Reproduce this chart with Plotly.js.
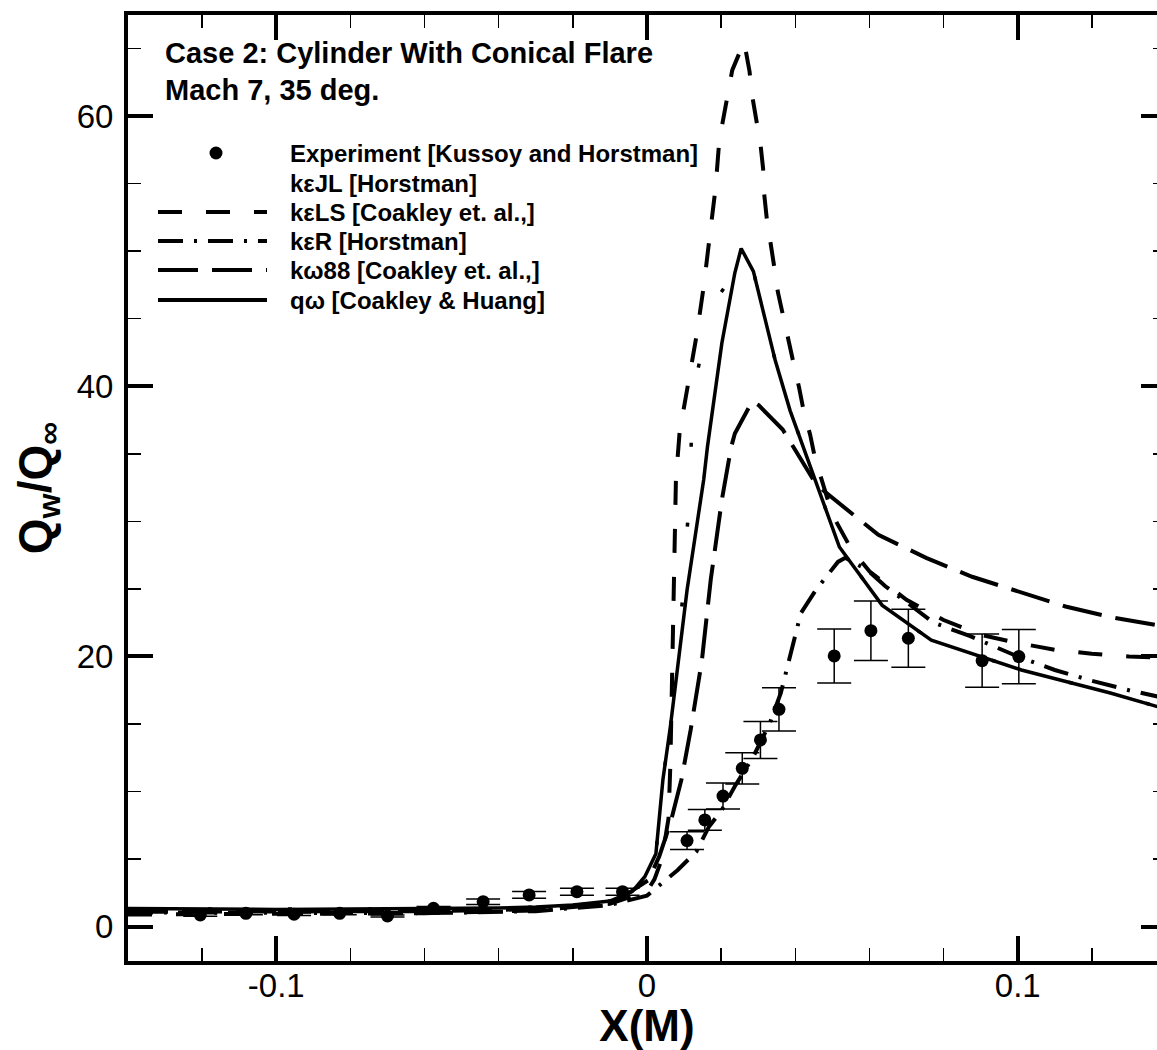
<!DOCTYPE html>
<html>
<head>
<meta charset="utf-8">
<script src="https://cdn.plot.ly/plotly-3.0.1.min.js"></script>
<style>
html,body{margin:0;padding:0;background:#fff;overflow:hidden;}
#chart{width:1170px;height:1050px;}
</style>
</head>
<body>
<div id="chart"></div>
<script>
// ---------------- data ----------------
const seriesNames = [
  "Experiment [Kussoy and Horstman]",
  "k\u03b5JL [Horstman]",
  "k\u03b5LS [Coakley et. al.,]",
  "k\u03b5R [Horstman]",
  "k\u03c988 [Coakley et. al.,]",
  "q\u03c9 [Coakley & Huang]"
];

const expX   = [-0.1205,-0.1082,-0.0952,-0.0829,-0.0700,-0.0576,-0.0442,-0.0318,-0.0189,-0.0066,0.0108,0.0156,0.0205,0.0257,0.0306,0.0356,0.0505,0.0604,0.0705,0.0904,0.1003];
const expY   = [0.87,0.99,0.92,0.99,0.79,1.36,1.85,2.35,2.59,2.59,6.37,7.90,9.67,11.72,13.82,16.09,20.04,21.91,21.35,19.69,19.99];
const expErr = [0.09,0.10,0.09,0.10,0.08,0.14,0.20,0.25,0.26,0.26,0.65,0.77,0.96,1.16,1.37,1.60,2.00,2.20,2.15,1.97,2.00];

// k-eps JL: almost entirely hidden under the other curves; only a couple of dots show on the rise
const keJLx = [-0.14,-0.1,-0.06,-0.03,-0.01,-0.004,-0.0006,0.0024,0.0043,0.0063,0.0095,0.0118,0.0121,0.0175,0.0237,0.0254,0.0287,0.0316,0.0346,0.0386,0.0435,0.0465,0.0519,0.0559,0.0634,0.0767,0.101,0.125,0.14];
const keJLy = [1.3,1.28,1.32,1.45,1.9,2.6,3.7,5.4,10.9,14.8,24.0,33.3,39.2,46.0,48.4,50.2,48.5,45.2,41.9,38.2,34.5,32.3,28.1,26.6,23.8,21.2,19.0,17.3,16.1];

const keLSx = [-0.14,-0.1,-0.06,-0.03,-0.01,0,0.002,0.004,0.0058,0.0063,0.0068,0.0073,0.0078,0.0088,0.0111,0.0134,0.0153,0.017,0.0185,0.0195,0.0219,0.023,0.0262,0.02766,0.02844,0.02963,0.03062,0.03132,0.03162,0.03232,0.0334,0.03429,0.03528,0.03658,0.03825,0.03954,0.04103,0.04224,0.04402,0.04531,0.05,0.055,0.06,0.07,0.08,0.09,0.1,0.11,0.12,0.13,0.14];
const keLSy = [0.9,0.95,1.0,1.2,1.7,2.6,3.5,5.0,8.0,12,18,25,33.1,36.6,40.2,43.8,47.4,51.0,54.7,58.2,61.8,63.4,65.5,63.3,61.4,59.7,57.9,56.1,54.2,52.4,50.6,48.9,47.0,45.3,43.4,41.7,39.9,38.2,36.4,34.7,30.5,28.0,26.3,24.2,22.7,21.6,21.0,20.5,20.2,20.0,19.9];

const keRx = [-0.14,-0.1,-0.06,-0.03,-0.01,0,0.0032,0.0083,0.0133,0.0167,0.0202,0.0237,0.0287,0.0331,0.0361,0.0391,0.0415,0.0455,0.0515,0.0535,0.0594,0.0643,0.0773,0.0872,0.1,0.11,0.12,0.13,0.14];
const keRy = [1.05,1.0,1.0,1.15,1.6,2.3,3.0,4.2,5.55,7.4,8.64,10.4,12.6,15.05,17.3,20.5,23.2,24.9,27.0,27.3,26.4,25.2,22.5,21.5,20.0,19.0,18.2,17.5,16.9];

const kw88x = [-0.14,-0.1,-0.06,-0.03,-0.01,-0.0051,0.0004,0.0033,0.0063,0.0093,0.0118,0.0148,0.0172,0.0202,0.0227,0.0237,0.0284,0.0301,0.0366,0.0455,0.0475,0.0624,0.0753,0.0877,0.1001,0.1129,0.1253,0.14];
const kw88y = [1.1,1.1,1.15,1.3,1.8,2.47,3.45,5.2,7.65,10.9,14.6,19.7,25.7,31.6,35.5,36.5,38.9,38.6,36.8,32.8,32.3,29.0,27.3,25.9,24.8,23.7,22.9,22.2];

const qwx = [-0.14,-0.12,-0.1,-0.08,-0.06,-0.04,-0.03,-0.02,-0.01,-0.004,-0.0006,0.0024,0.0043,0.0063,0.0108,0.0153,0.0163,0.0202,0.0237,0.0254,0.0287,0.0316,0.0346,0.0386,0.0435,0.0465,0.0519,0.0559,0.0634,0.0767,0.101,0.125,0.14];
const qwy = [1.35,1.3,1.28,1.3,1.32,1.38,1.45,1.6,1.9,2.6,3.7,5.4,10.9,14.8,24.9,33.1,35.5,43.2,48.4,50.2,48.5,45.2,41.9,38.2,34.5,32.3,28.1,26.6,23.8,21.2,19.0,17.3,16.1];

const xTickVals = [-0.1, 0, 0.1];
const xTickText = ["-0.1", "0", "0.1"];
const xMinorVals = [-0.12,-0.08,-0.06,-0.04,-0.02,0.02,0.04,0.06,0.08,0.12];
const yTickVals = [0, 20, 40, 60];
const yTickText = ["0", "20", "40", "60"];
const yMinorVals = [5,10,15,25,30,35,45,50,55,65];

const titleLines = ["Case 2: Cylinder With Conical Flare", "Mach 7, 35 deg."];

// ---------------- styles ----------------
const dashes = {
  keJL: "4px,76px",
  keLS: "24px,24px",
  keR: "25px,11px,3px,11px",
  kw88: "40px,14px",
  qw: "solid"
};
const LW = 4;
const FONT = "Liberation Sans, Arial, Helvetica, sans-serif";

// ---------------- traces ----------------
const traces = [
  {x: keJLx, y: keJLy, name: seriesNames[1], mode: "lines", line: {color: "#000", width: 3.5, dash: dashes.keJL}, showlegend: false},
  {x: keLSx, y: keLSy, name: seriesNames[2], mode: "lines", line: {color: "#000", width: LW, dash: dashes.keLS}, showlegend: false},
  {x: keRx, y: keRy, name: seriesNames[3], mode: "lines", line: {color: "#000", width: LW, dash: dashes.keR}, showlegend: false},
  {x: kw88x, y: kw88y, name: seriesNames[4], mode: "lines", line: {color: "#000", width: LW, dash: dashes.kw88}, showlegend: false},
  {x: qwx, y: qwy, name: seriesNames[5], mode: "lines", line: {color: "#000", width: 3.5}, showlegend: false},
  {x: expX, y: expY, name: seriesNames[0], mode: "markers", marker: {color: "#000", size: 13},
   error_y: {type: "data", array: expErr, visible: true, color: "#000", thickness: 1.5, width: 17}, showlegend: false}
];

// ---------------- manual legend (pixel placement -> paper) ----------------
const PL = 128, PR = 1166, PT = 15, PB = 961;
const px2x = p => (p - PL) / (PR - PL);
const px2y = p => (PB - p) / (PB - PT);
const legRows = [153, 183, 212, 241, 270, 300];
const legDash = [null, dashes.keJL, dashes.keLS, dashes.keR, dashes.kw88, "solid"];
const shapes = [];
const annotations = [];
legRows.forEach((py, i) => {
  if (i === 0) {
    shapes.push({type: "circle", xref: "paper", yref: "paper", xsizemode: "pixel", ysizemode: "pixel",
      xanchor: px2x(216), yanchor: px2y(py), x0: -6.5, x1: 6.5, y0: -6.5, y1: 6.5,
      fillcolor: "#000", line: {color: "#000", width: 0}});
  } else if (i !== 1) {
    shapes.push({type: "line", xref: "paper", yref: "paper", x0: px2x(158), x1: px2x(267), y0: px2y(py), y1: px2y(py),
      line: {color: "#000", width: LW, dash: legDash[i]}});
  }
  annotations.push({xref: "paper", yref: "paper", x: px2x(288), y: px2y(py), xanchor: "left", yanchor: "middle",
    text: seriesNames[i], showarrow: false,
    font: {family: FONT, size: 24, color: "#000", weight: "bold"}});
});
annotations.push({xref: "paper", yref: "paper", x: px2x(163), y: px2y(53), xanchor: "left", yanchor: "middle",
  text: titleLines[0], showarrow: false, font: {family: FONT, size: 29, color: "#000", weight: "bold"}});
annotations.push({xref: "paper", yref: "paper", x: px2x(163), y: px2y(90), xanchor: "left", yanchor: "middle",
  text: titleLines[1], showarrow: false, font: {family: FONT, size: 29, color: "#000", weight: "bold"}});

const tickFont = {family: FONT, size: 33, color: "#000"};
const layout = {
  width: 1170, height: 1050,
  margin: {l: PL, r: 1170 - PR, t: PT, b: 1050 - PB},
  paper_bgcolor: "#fff", plot_bgcolor: "#fff",
  showlegend: false,
  xaxis: {
    range: [-0.14, 0.14], showgrid: false, zeroline: false,
    showline: true, linecolor: "#000", linewidth: 4, mirror: "ticks",
    ticks: "inside", ticklen: 25, tickwidth: 4, tickcolor: "#000",
    tickmode: "array", tickvals: xTickVals, ticktext: xTickText, tickfont: tickFont,
    ticklabelstandoff: -8,
    minor: {tickmode: "array", tickvals: xMinorVals, ticks: "inside", ticklen: 13, tickwidth: 1.5, tickcolor: "#000", showgrid: false},
    title: {text: "X(M)", font: {family: FONT, size: 44, color: "#000", weight: "bold"}, standoff: 10},
    automargin: false
  },
  yaxis: {
    range: [-2.54, 67.48], showgrid: false, zeroline: false,
    showline: true, linecolor: "#000", linewidth: 4, mirror: "ticks",
    ticks: "inside", ticklen: 25, tickwidth: 4, tickcolor: "#000",
    tickmode: "array", tickvals: yTickVals, ticktext: yTickText, tickfont: tickFont,
    ticklabelstandoff: 4,
    minor: {tickmode: "array", tickvals: yMinorVals, ticks: "inside", ticklen: 13, tickwidth: 1.5, tickcolor: "#000", showgrid: false},
    title: {text: "Q<sub>w</sub>/Q<sub>\u221e</sub>", font: {family: FONT, size: 46, color: "#000", weight: "bold"}, standoff: 12},
    automargin: false
  },
  shapes: shapes,
  annotations: annotations
};

Plotly.newPlot("chart", traces, layout, {displayModeBar: false, staticPlot: true});
</script>
</body>
</html>
